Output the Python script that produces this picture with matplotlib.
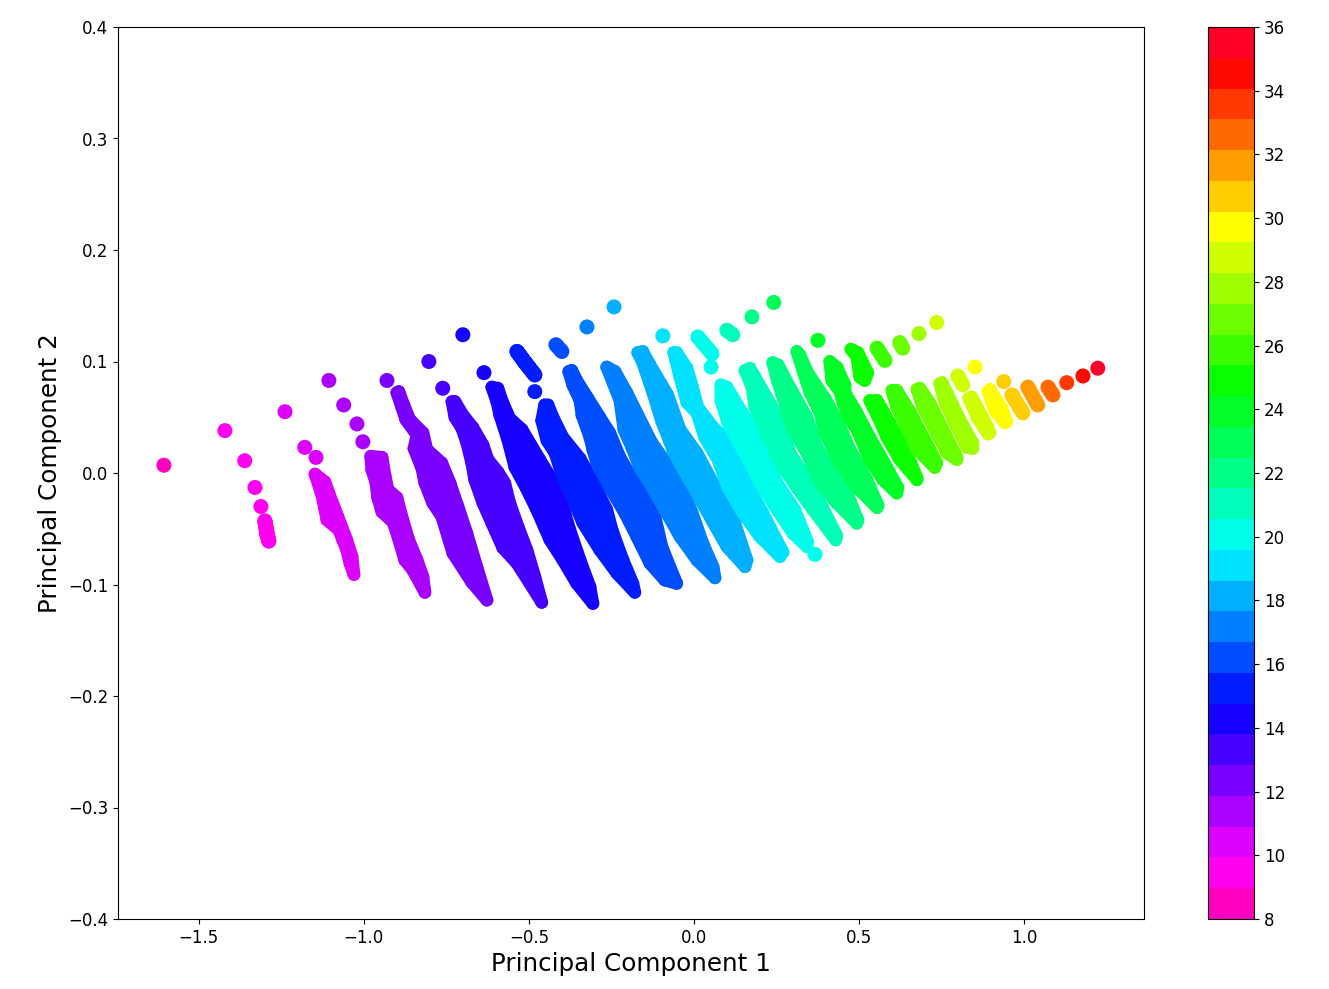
#scatter of first two principal components, coloured by class 8-36
import matplotlib
matplotlib.use('Agg')
import matplotlib.pyplot as plt

#points: (pc1, pc2). each class is a list of clumps,
#a clump of one point is a lone dot, longer clumps are the rim of a packed band of dots
class_08 = [[(-1.606,.007)]]
class_09 = [[(-1.421,.038)],[(-1.361,.011)],[(-1.330,-.013)],[(-1.312,-.030)],
            [(-1.300,-.043),(-1.294,-.055),(-1.288,-.061)]]
class_10 = [[(-1.239,.055)],[(-1.179,.023)],[(-1.145,.014)],
            [(-1.148,-.001),(-1.127,-.020),(-1.118,-.033),(-1.112,-.042),(-1.076,-.051),(-1.064,-.060),(-1.052,-.069),
             (-1.042,-.081),(-1.030,-.091),(-1.036,-.075),(-1.052,-.060),(-1.070,-.046),(-1.079,-.039),(-1.088,-.032),
             (-1.106,-.018),(-1.118,-.008)]]
class_11 = [[(-1.106,.083)],[(-1.061,.061)],[(-1.021,.044)],[(-1.003,.028)],
            [(-.979,.015),(-.976,.003),(-.964,-.008),(-.958,-.022),(-.945,-.035),(-.912,-.044),(-.900,-.054),(-.876,-.078),
             (-.852,-.087),(-.815,-.107),(-.821,-.093),(-.839,-.078),(-.864,-.060),(-.882,-.042),(-.900,-.022),(-.927,-.015),
             (-.936,-.002),(-.945,.014)]]
class_12 = [[(-.930,.083)],
            [(-.900,.072),(-.885,.059),(-.873,.048),(-.839,.034),(-.848,.022),(-.824,.004),(-.815,-.009),(-.791,-.027),
             (-.764,-.039),(-.730,-.072),(-.673,-.098),(-.627,-.114),(-.658,-.084),(-.688,-.054),(-.715,-.030),(-.739,-.009),
             (-.764,.009),(-.809,.021),(-.821,.036),(-.861,.048),(-.879,.061),(-.894,.073)]]
class_13 = [[(-.803,.100)],[(-.761,.076)],
            [(-.733,.064),(-.724,.050),(-.703,.040),(-.688,.027),(-.673,.009),(-.664,-.006),(-.639,-.027),(-.612,-.045),
             (-.579,-.067),(-.536,-.081),(-.497,-.099),(-.461,-.116),(-.482,-.093),(-.506,-.069),(-.533,-.048),(-.558,-.027),
             (-.573,-.009),(-.594,.001),(-.624,.012),(-.639,.025),(-.670,.041),(-.700,.052),(-.724,.064)]]
class_14 = [[(-.700,.124)],[(-.636,.090)],
            [(-.612,.077),(-.597,.064),(-.588,.052),(-.564,.030),(-.542,.005),(-.509,-.013),(-.476,-.033),(-.436,-.060),
             (-.397,-.078),(-.355,-.099),(-.306,-.117),(-.315,-.102),(-.345,-.078),(-.376,-.051),(-.400,-.027),(-.430,-.006),
             (-.467,.012),(-.521,.039),(-.558,.049),(-.579,.063),(-.594,.076)]]
class_15 = [[(-.536,.109),(-.512,.099),(-.482,.088)],[(-.482,.073)],
            [(-.452,.061),(-.461,.047),(-.445,.029),(-.421,.018),(-.397,-.004),(-.370,-.022),(-.336,-.045),(-.285,-.069),
             (-.233,-.090),(-.179,-.107),(-.185,-.099),(-.215,-.078),(-.248,-.051),(-.264,-.033),(-.300,-.011),(-.345,.013),
             (-.397,.032),(-.427,.050),(-.442,.061)]]
class_16 = [[(-.418,.115),(-.400,.109)],
            [(-.379,.091),(-.367,.079),(-.345,.065),(-.339,.052),(-.315,.032),(-.306,.021),(-.294,.009),(-.255,-.013),
             (-.209,-.036),(-.173,-.057),(-.133,-.081),(-.088,-.096),(-.052,-.099),(-.073,-.084),(-.097,-.066),(-.118,-.039),
             (-.142,-.024),(-.185,-.006),(-.224,.014),(-.255,.036),(-.285,.050),(-.321,.067),(-.355,.083),(-.370,.092)]]
class_17 = [[(-.324,.131)],
            [(-.264,.095),(-.245,.081),(-.224,.065),(-.212,.039),(-.188,.023),(-.164,.005),(-.127,-.013),(-.088,-.033),
             (-.042,-.057),(.009,-.078),(.064,-.094),(.058,-.084),(.027,-.063),(-.006,-.035),(-.036,-.013),(-.079,.007),
             (-.127,.027),(-.173,.054),(-.203,.072),(-.239,.091)]]
class_18 = [[(-.242,.149)],
            [(-.170,.108),(-.155,.099),(-.124,.072),(-.097,.046),(-.064,.021),(-.036,.005),(.009,-.018),(.048,-.039),
             (.100,-.066),(.155,-.084),(.161,-.078),(.124,-.045),(.058,-.009),(.009,.018),(-.042,.039),(-.079,.070),
             (-.133,.097),(-.155,.109)]]
class_19 = [[(-.094,.123)],
            [(-.061,.108),(-.042,.086),(-.021,.063),(.009,.054),(.033,.032),(.073,.012),(.103,-.013),(.148,-.036),
             (.200,-.057),(.261,-.075),(.270,-.071),(.209,-.036),(.139,.003),(.109,.027),(.058,.041),(.012,.059),
             (-.006,.079),(-.021,.094),(-.052,.108)]]
class_20 = [[(.012,.122),(.055,.107)],[(.052,.095)],
            [(.082,.079),(.082,.065),(.103,.045),(.130,.030),(.170,.009),(.209,-.013),(.252,-.033),(.300,-.054),
             (.342,-.066),(.345,-.062),(.306,-.033),(.252,-.009),(.200,.027),(.155,.050),(.100,.077)],
            [(.367,-.073)]]
class_21 = [[(.100,.128),(.118,.124)],
            [(.155,.092),(.176,.077),(.185,.059),(.224,.032),(.270,.005),(.312,-.013),(.361,-.033),(.430,-.060),
             (.433,-.056),(.388,-.030),(.342,-.006),(.291,.018),(.270,.041),(.230,.063),(.170,.094)]]
class_22 = [[(.176,.140)],
            [(.239,.099),(.255,.081),(.282,.056),(.300,.039),(.342,.018),(.382,-.009),(.433,-.027),(.494,-.045),
             (.497,-.042),(.464,-.018),(.421,.000),(.373,.023),(.342,.050),(.300,.072),(.255,.097)]]
class_23 = [[(.242,.153)],
            [(.312,.109),(.330,.092),(.352,.072),(.382,.054),(.397,.036),(.442,.009),(.494,-.013),(.555,-.031),
             (.558,-.029),(.524,-.006),(.473,.021),(.433,.048),(.397,.067),(.345,.090),(.321,.106)]]
class_24 = [[(.376,.119)],
            [(.412,.100),(.418,.083),(.442,.073),(.452,.063),(.473,.048),(.494,.039),(.533,.012),(.573,-.006),
             (.615,-.018),(.618,-.013),(.585,.005),(.533,.032),(.494,.054),(.458,.072),(.458,.079),(.433,.095)]]
class_25 = [[(.476,.111),(.494,.104),(.503,.086),(.518,.083),(.527,.090),(.497,.108)],
            [(.533,.065),(.558,.050),(.585,.032),(.624,.012),(.676,-.006),(.676,-.004),(.645,.018),(.594,.045),(.555,.065)]]
class_26 = [[(.555,.112),(.579,.101)],
            [(.600,.074),(.615,.059),(.645,.041),(.676,.021),(.730,.005),(.736,.009),(.700,.030),(.655,.055),(.615,.074)]]
class_27 = [[(.624,.117),(.633,.112)],
            [(.676,.075),(.694,.059),(.730,.039),(.767,.018),(.797,.012),(.797,.014),(.755,.039),(.715,.063),(.685,.076)]]
class_28 = [[(.682,.125)],
            [(.745,.080),(.761,.063),(.797,.041),(.827,.023),(.845,.022),(.845,.027),(.806,.048),(.767,.072),(.752,.081)]]
class_29 = [[(.736,.135)],[(.800,.087),(.815,.079)],
            [(.833,.067),(.858,.050),(.891,.035),(.897,.036),(.891,.041),(.852,.063),(.842,.068)]]
class_30 = [[(.852,.095)],[(.891,.073),(.912,.056),(.942,.045),(.948,.046),(.933,.058),(.897,.075)]]
class_31 = [[(.939,.082)],[(.964,.070),(.997,.054)]]
class_32 = [[(1.012,.077),(1.042,.061)]]
class_33 = [[(1.073,.077),(1.088,.070)]]
class_34 = [[(1.130,.081)]]
class_35 = [[(1.179,.087)]]
class_36 = [[(1.224,.094)]]

classes = [class_08,class_09,class_10,class_11,class_12,class_13,class_14,class_15,class_16,class_17,
           class_18,class_19,class_20,class_21,class_22,class_23,class_24,class_25,class_26,class_27,
           class_28,class_29,class_30,class_31,class_32,class_33,class_34,class_35,class_36]
labels = list(range(8,37))

pc1 = []
pc2 = []
colour = []
size = []
for label,clumps in zip(labels,classes):
    for clump in clumps:
        for p in clump:
            pc1.append(p[0])
            pc2.append(p[1])
            colour.append(label)
            #rim of a wide band sits a bit inside so the white gaps between bands stay open
            size.append(85 if len(clump) >= 6 else 117)

cmap = plt.get_cmap('gist_rainbow_r',29)

fig = plt.figure(figsize=(13.29,9.89),dpi=100)
ax = fig.add_axes([118/1329,1-919/989,(1144-118)/1329,(919-27)/989])
sc = ax.scatter(pc1,pc2,c=colour,cmap=cmap,vmin=8,vmax=36,s=size,linewidths=0)

#fill the packed bands
for label,clumps in zip(labels,classes):
    for clump in clumps:
        if len(clump) > 1:
            ax.fill([p[0] for p in clump],[p[1] for p in clump],facecolor=cmap(sc.norm(label)),
                    edgecolor=cmap(sc.norm(label)),linewidth=9.2 if len(clump) >= 6 else 10.8,joinstyle='round')

ax.set_xlim(-1.745,1.364)
ax.set_ylim(-0.4,0.4)
ax.tick_params(labelsize=12)
ax.set_xlabel('Principal Component 1',fontsize=17.7,labelpad=4)
ax.set_ylabel('Principal Component 2',fontsize=17.7,labelpad=4)

cax = fig.add_axes([1208/1329,1-919/989,(1254-1208)/1329,(919-27)/989])
cbar = fig.colorbar(sc,cax=cax,ticks=list(range(8,37,2)))
cbar.ax.tick_params(labelsize=12)

fig.savefig('out.png',dpi=100)
